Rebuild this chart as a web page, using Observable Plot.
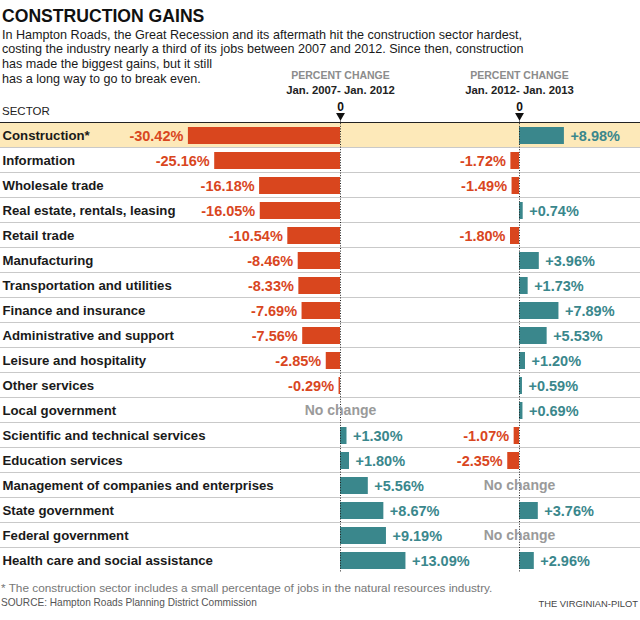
<!DOCTYPE html>
<html><head><meta charset="utf-8">
<script src="https://cdn.jsdelivr.net/npm/d3@7"></script>
<script src="https://cdn.jsdelivr.net/npm/@observablehq/plot@0.6"></script>
<style>
body{margin:0;background:#fff;}
#chart{position:relative;width:640px;height:620px;overflow:hidden;font-family:"Liberation Sans",Arial,sans-serif;background:#fff;}
.t{position:absolute;white-space:nowrap;line-height:1;}
#chart svg{position:absolute;top:60px;}
</style></head><body><div id="chart"></div>
<script>
const sectors = [
  "Construction*","Information","Wholesale trade","Real estate, rentals, leasing","Retail trade",
  "Manufacturing","Transportation and utilities","Finance and insurance","Administrative and support",
  "Leisure and hospitality","Other services","Local government","Scientific and technical services",
  "Education services","Management of companies and enterprises","State government",
  "Federal government","Health care and social assistance"
];
const change2007to2012 = [-30.42,-25.16,-16.18,-16.05,-10.54,-8.46,-8.33,-7.69,-7.56,-2.85,-0.29,null,1.30,1.80,5.56,8.67,9.19,13.09];
const change2012to2013 = [8.98,-1.72,-1.49,0.74,-1.80,3.96,1.73,7.89,5.53,1.20,0.59,0.69,-1.07,-2.35,null,3.76,null,2.96];
const periods = ["Jan. 2007- Jan. 2012","Jan. 2012- Jan. 2013"];
const highlighted = ["Construction*"];

const ORANGE = "#d9461e", TEAL = "#3a878c", HIGHLIGHT = "#fde9b9";
const FONT = "'Liberation Sans',Arial,sans-serif";
const fmt = v => (v > 0 ? "+" : "") + v.toFixed(2) + "%";

function panel(values, period, domain, width, withLabels) {
  const rows = sectors.map((s, i) => ({sector: s, value: values[i]}));
  const neg = rows.filter(d => d.value != null && d.value < 0);
  const pos = rows.filter(d => d.value != null && d.value >= 0);
  const none = rows.filter(d => d.value == null);
  const marks = [
    Plot.cell(highlighted, {y: d => d, fill: HIGHLIGHT}),
    Plot.cell(sectors.slice(0, -1), {y: d => d, fill: "#c9c9c9", insetTop: 24}),
    Plot.cell([sectors[0]], {y: d => d, fill: "#222", insetTop: -1, insetBottom: 25}),
    Plot.barX(neg, {x: "value", y: "sector", fill: ORANGE, insetTop: 4, insetBottom: 4}),
    Plot.barX(pos, {x: "value", y: "sector", fill: TEAL, insetTop: 4, insetBottom: 4}),
    Plot.ruleX([0], {stroke: "#222", strokeDasharray: "1,1.6", insetTop: -5}),
    Plot.dot([0], {x: d => d, frameAnchor: "top", symbol: "triangle", rotate: 180, r: 3.3, fill: "#111", stroke: null, dy: -8}),
    Plot.text(["0"], {x: () => 0, text: d => d, frameAnchor: "top", dy: -21.5, fontSize: 12, fontWeight: "bold", fill: "#111", fontFamily: FONT}),
    Plot.text([period], {x: () => 0, text: d => d, frameAnchor: "top", dy: -38, fontSize: 11.3, fontWeight: "bold", fill: "#222", fontFamily: FONT}),
    Plot.text(["PERCENT CHANGE"], {x: () => 0, text: d => d, frameAnchor: "top", dy: -51.5, fontSize: 10.5, fontWeight: "bold", fill: "#8c8c8c", fontFamily: FONT}),
    Plot.text(neg, {x: "value", y: "sector", text: d => fmt(d.value), textAnchor: "end", dx: -5, fill: ORANGE, fontSize: 14.5, fontWeight: "bold", fontFamily: FONT}),
    Plot.text(pos, {x: "value", y: "sector", text: d => fmt(d.value), textAnchor: "start", dx: 6, fill: TEAL, fontSize: 14.5, fontWeight: "bold", fontFamily: FONT}),
    Plot.text(none, {x: () => 0, y: "sector", text: () => "No change", textAnchor: "middle", fill: "#9a9a9a", fontSize: 14, fontWeight: "bold", fontFamily: FONT})
  ];
  if (withLabels) {
    marks.push(Plot.text(sectors, {y: d => d, text: d => d, frameAnchor: "left", textAnchor: "start", dx: 2, fill: "#1a1a1a", fontSize: 13.2, fontWeight: "bold", fontFamily: FONT}));
  }
  return Plot.plot({
    width, height: 515,
    marginTop: 63, marginBottom: 2, marginLeft: 0, marginRight: 0,
    style: {background: "transparent", overflow: "visible"},
    x: {domain, axis: null},
    y: {domain: sectors, padding: 0, axis: null},
    marks
  });
}

const chart = document.getElementById("chart");
const left = panel(change2007to2012, periods[0], [-68, 18], 430, true);
left.style.left = "0px";
const right = panel(change2012to2013, periods[1], [-17.8, 24.2], 210, false);
right.style.left = "430px";
chart.appendChild(left);
chart.appendChild(right);

function addText(txt, css) {
  const d = document.createElement("div");
  d.className = "t";
  d.textContent = txt;
  Object.assign(d.style, css);
  chart.appendChild(d);
}
addText("CONSTRUCTION GAINS", {left: "2px", top: "8px", fontSize: "17.6px", fontWeight: "bold", color: "#111"});
const sub = [
  "In Hampton Roads, the Great Recession and its aftermath hit the construction sector hardest,",
  "costing the industry nearly a third of its jobs between 2007 and 2012. Since then, construction",
  "has made the biggest gains, but it still",
  "has a long way to go to break even."
];
const subBase = [39.3, 54, 68.7, 83.3];
sub.forEach((s, i) => addText(s, {left: "2px", top: (subBase[i] - 10.6) + "px", fontSize: "12.6px", color: "#1a1a1a"}));
addText("SECTOR", {left: "2px", top: "106.2px", fontSize: "11.5px", color: "#222"});
addText("* The construction sector includes a small percentage of jobs in the natural resources industry.", {left: "1px", top: "582.7px", fontSize: "11.8px", color: "#777"});
addText("SOURCE: Hampton Roads Planning District Commission", {left: "1px", top: "598.2px", fontSize: "10.1px", color: "#555"});
addText("THE VIRGINIAN-PILOT", {right: "2px", top: "598.7px", fontSize: "9.4px", color: "#444"});
</script>
</body></html>
